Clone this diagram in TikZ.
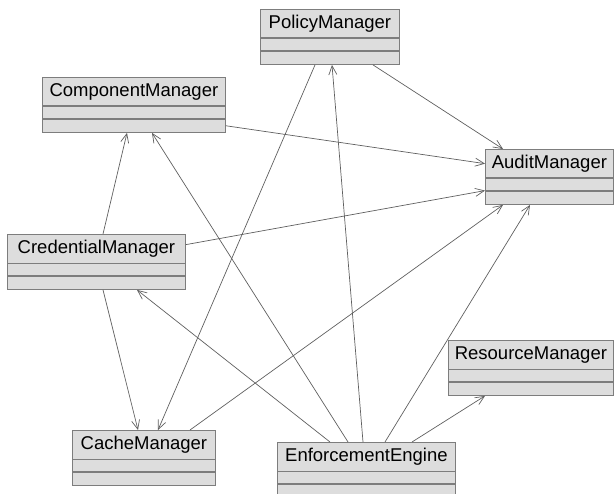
\documentclass[tikz,border=0pt]{standalone}
\usepackage{fontspec}
\setmainfont{Liberation Sans}
\usepackage{xcolor}
\usepackage{tikz}
\usetikzlibrary{calc}
\usetikzlibrary{positioning}
\usetikzlibrary{arrows.meta}

\definecolor{boxfill}{RGB}{221,221,221}
\definecolor{boxline}{RGB}{125,125,125}
\definecolor{linkgray}{RGB}{95,95,95}

\begin{document}
\begin{tikzpicture}[x=1pt, y=-1pt,
  every node/.style={font=\fontsize{18.5}{22}\selectfont},
  classname/.style={draw=boxline, fill=boxfill, line width=0.8pt, minimum height=28.5pt, inner sep=0pt, anchor=north west},
  classattr/.style={draw=boxline, fill=boxfill, line width=0.8pt, minimum height=11.5pt, inner sep=0pt},
  classops/.style={draw=boxline, fill=boxfill, line width=0.8pt, minimum height=13.5pt, inner sep=0pt},
  uses/.style={draw=linkgray, line width=0.7pt, -{Straight Barb[length=9pt, width=8pt]}}]

\useasboundingbox (0,0) rectangle (615,494);

\node (policy) [classname, minimum width=139pt] at (260,9) {PolicyManager};
\node (policy-a) [classattr, minimum width=139pt, below=0pt of policy] {};
\node (policy-o) [classops, minimum width=139pt, below=0pt of policy-a] {};

\node (component) [classname, minimum width=183pt] at (42,77) {ComponentManager};
\node (component-a) [classattr, minimum width=183pt, below=0pt of component] {};
\node (component-o) [classops, minimum width=183pt, below=0pt of component-a] {};

\node (credential) [classname, minimum width=178pt] at (7,234) {CredentialManager};
\node (credential-a) [classattr, minimum width=178pt, below=0pt of credential] {};
\node (credential-o) [classops, minimum width=178pt, below=0pt of credential-a] {};

\node (audit) [classname, minimum width=128pt] at (485,149) {AuditManager};
\node (audit-a) [classattr, minimum width=128pt, below=0pt of audit] {};
\node (audit-o) [classops, minimum width=128pt, below=0pt of audit-a] {};

\node (resource) [classname, minimum width=165pt] at (448,340) {ResourceManager};
\node (resource-a) [classattr, minimum width=165pt, below=0pt of resource] {};
\node (resource-o) [classops, minimum width=165pt, below=0pt of resource-a] {};

\node (cache) [classname, minimum width=143pt] at (72,430) {CacheManager};
\node (cache-a) [classattr, minimum width=143pt, below=0pt of cache] {};
\node (cache-o) [classops, minimum width=143pt, below=0pt of cache-a] {};

\node (enforce) [classname, minimum width=178pt] at (277,442) {EnforcementEngine};
\node (enforce-a) [classattr, minimum width=178pt, below=0pt of enforce] {};
\node (enforce-o) [classops, minimum width=178pt, below=0pt of enforce-a] {};

% dependencies
\draw [uses] ([xshift=113pt]policy-o.south west) -- ([xshift=18pt]audit.north west);
\draw [uses] (component-o.east) -- (audit.west);
\draw [uses] ([yshift=4pt]credential.east) -- (audit-a.south west);
\draw [uses] ([xshift=118pt]cache.north west) -- ([xshift=18pt]audit-o.south west);
\draw [uses] ([xshift=108pt]enforce.north west) -- ([xshift=45pt]audit-o.south west);
\draw [uses] ([xshift=135pt]enforce.north west) -- ([xshift=37pt]resource-o.south west);
\draw [uses] ([xshift=86pt]enforce.north west) -- ([xshift=72pt]policy-o.south west);
\draw [uses] ([xshift=71pt]enforce.north west) -- ([xshift=110pt]component-o.south west);
\draw [uses] ([xshift=53pt]enforce.north west) -- ([xshift=130pt]credential-o.south west);
\draw [uses] ([xshift=55pt]policy-o.south west) -- ([xshift=86pt]cache.north west);
\draw [uses] ([xshift=96pt]credential.north west) -- ([xshift=85pt]component-o.south west);
\draw [uses] ([xshift=96pt]credential-o.south west) -- ([xshift=66pt]cache.north west);

\end{tikzpicture}
\end{document}
